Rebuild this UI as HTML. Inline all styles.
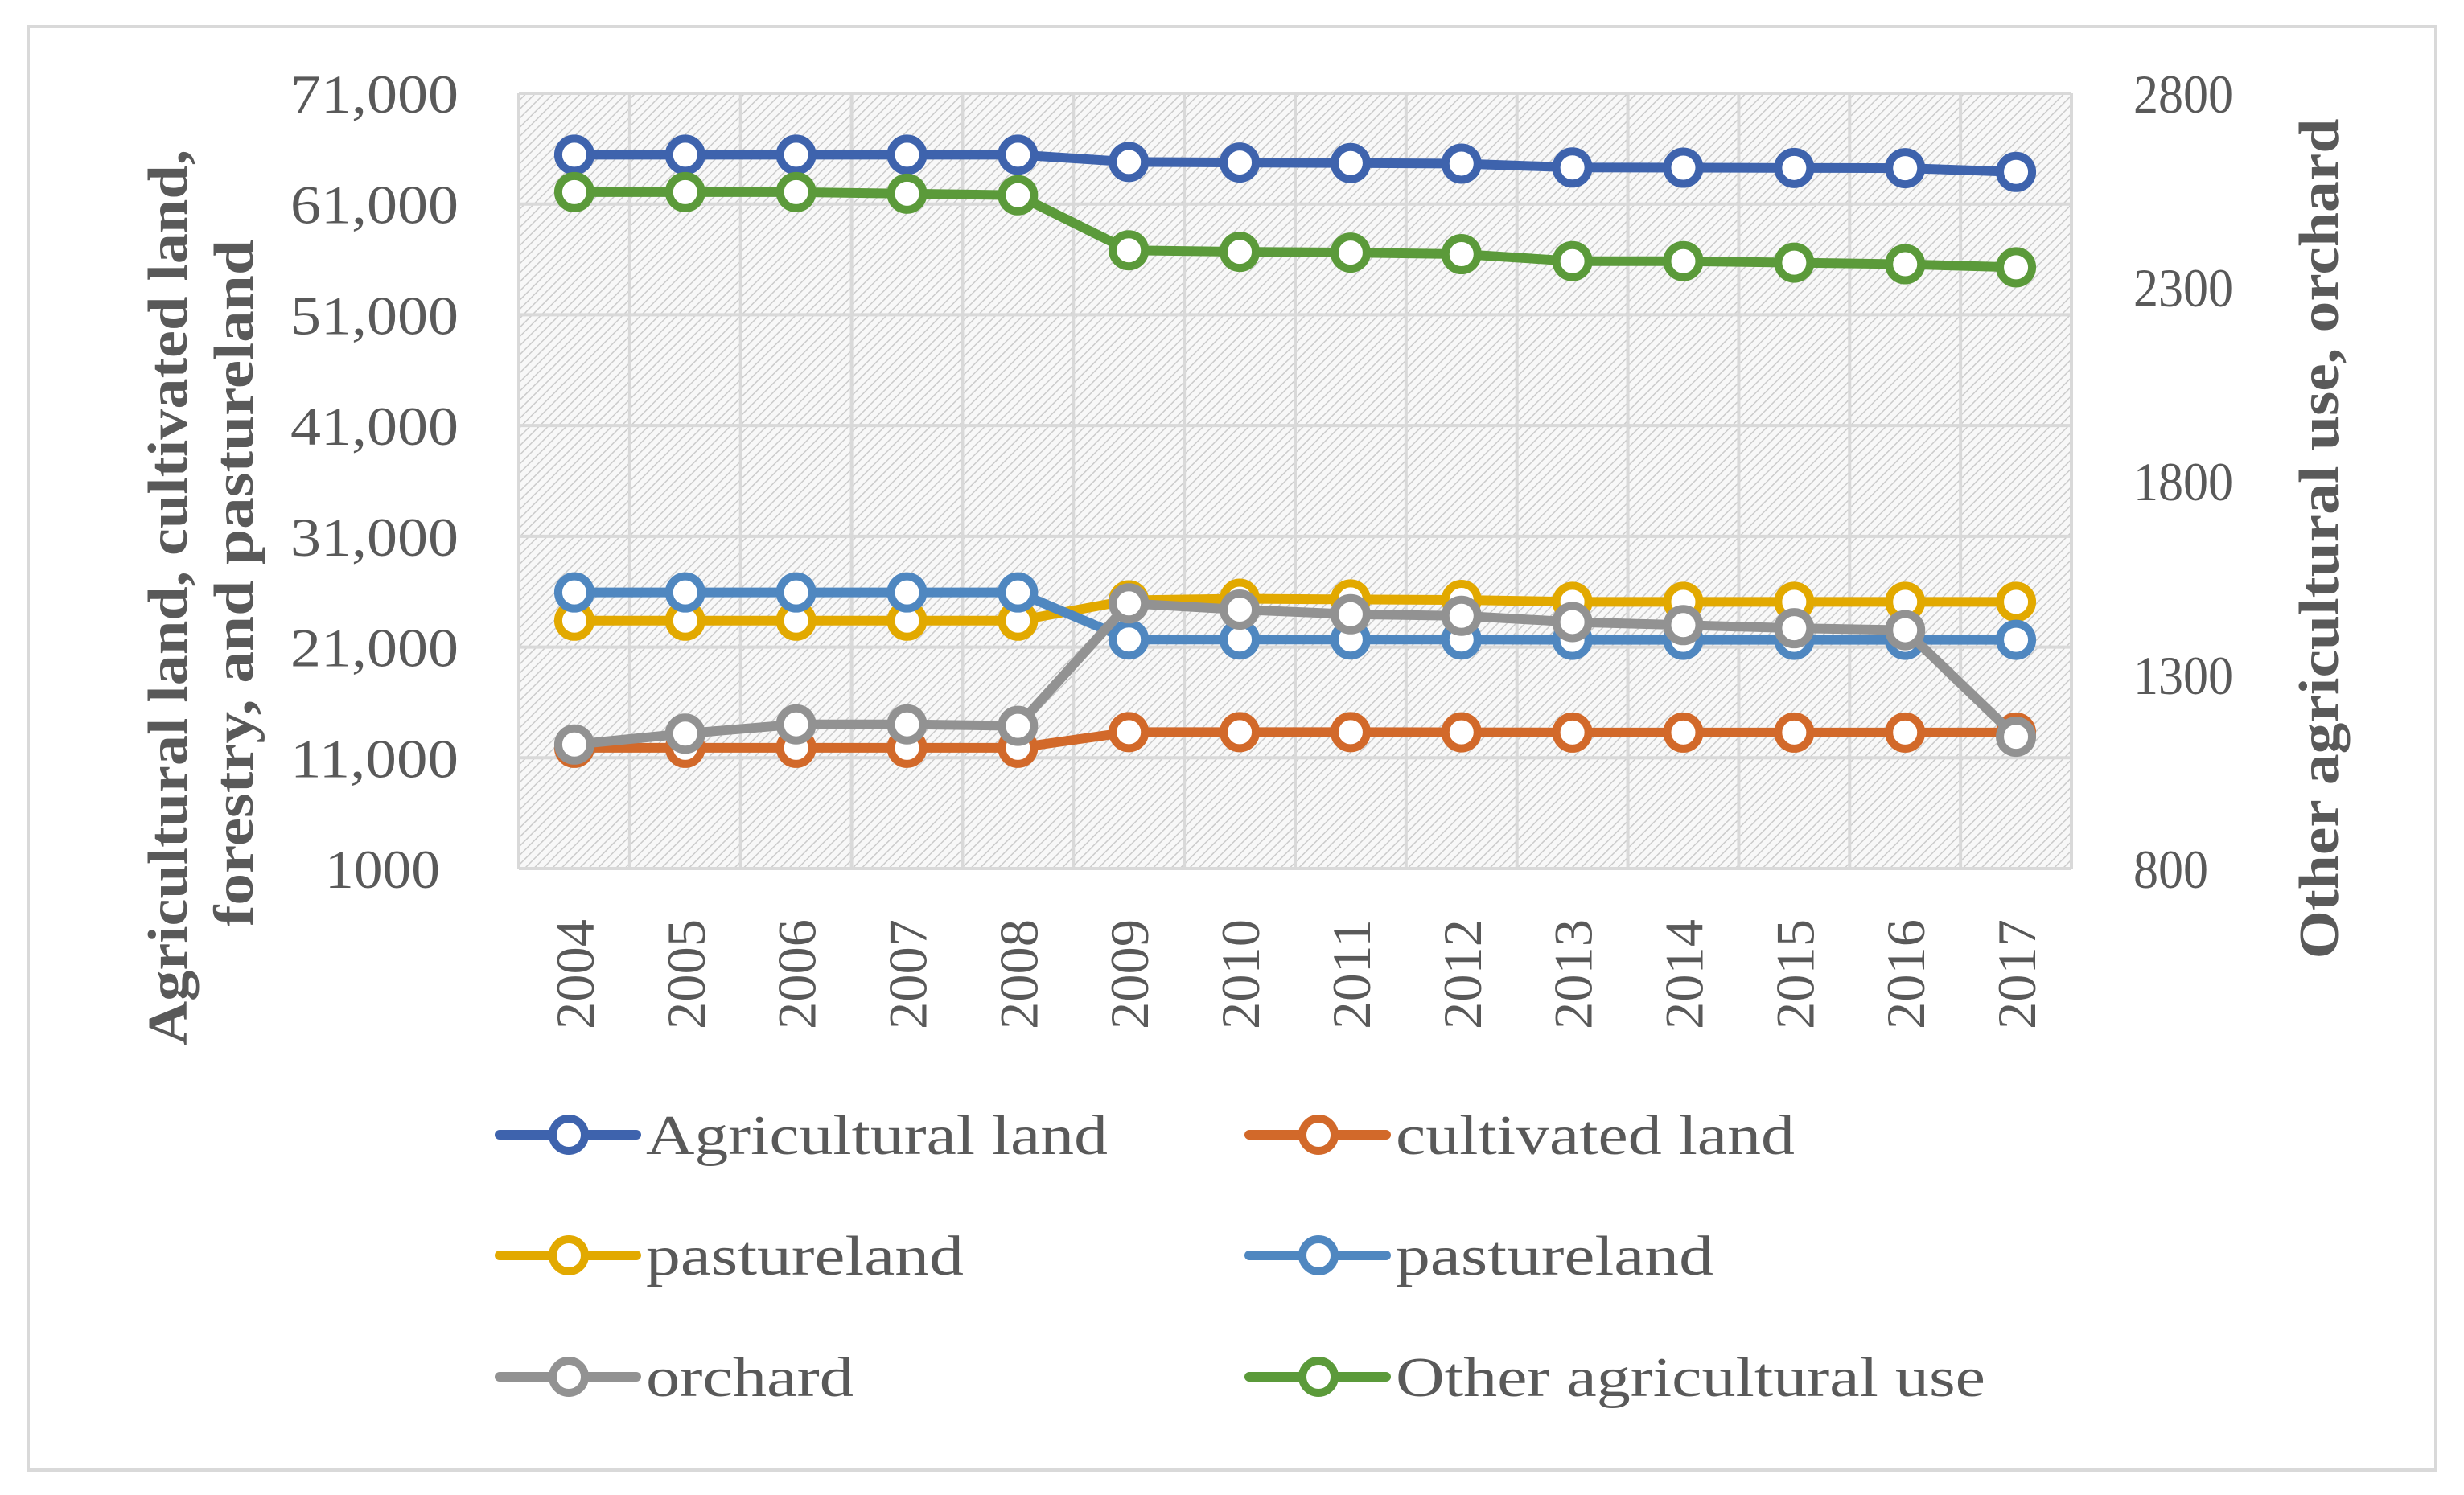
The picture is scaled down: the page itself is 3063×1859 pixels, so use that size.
<!DOCTYPE html>
<html><head><meta charset="utf-8"><style>
html,body{margin:0;padding:0;background:#fff;}
svg{display:block;font-family:"Liberation Serif",serif;}
</style></head><body>
<svg id="chart" width="3063" height="1859" viewBox="0 0 3063 1859">
<defs>
<pattern id="hatch" width="8" height="8" patternUnits="userSpaceOnUse" patternTransform="rotate(45)">
<rect width="8" height="8" fill="#f8f8f8"/>
<line x1="0" y1="0" x2="0" y2="8" stroke="#cbcbcb" stroke-width="3"/>
</pattern>
</defs>
<rect x="35" y="33" width="2993" height="1795" fill="#fff" stroke="#d9d9d9" stroke-width="4"/>
<rect x="645" y="116" width="1930" height="964" fill="url(#hatch)"/>
<g id="grid"></g>
<g id="series"></g>
<g id="axes"></g>
<text transform="translate(232,743) rotate(-90)" text-anchor="middle" font-size="70" font-weight="bold" fill="#595959" textLength="1114" lengthAdjust="spacingAndGlyphs">Agricultural land, cultivated land,</text>
<text transform="translate(314,725) rotate(-90)" text-anchor="middle" font-size="70" font-weight="bold" fill="#595959" textLength="854" lengthAdjust="spacingAndGlyphs">forestry, and pastureland</text>
<text transform="translate(2906,670) rotate(-90)" text-anchor="middle" font-size="70" font-weight="bold" fill="#595959" textLength="1045" lengthAdjust="spacingAndGlyphs">Other agricultural use, orchard</text>
<g id="legend"></g>
</svg>
<script>
const years = ["2004","2005","2006","2007","2008","2009","2010","2011","2012","2013","2014","2015","2016","2017"];
const leftTicks = [1000,11000,21000,31000,41000,51000,61000,71000];
const leftTickLabels = ["1000","11,000","21,000","31,000","41,000","51,000","61,000","71,000"];
const rightTicks = [800,1300,1800,2300,2800];
const agricultural = [65450,65450,65450,65450,65450,64800,64750,64700,64650,64300,64280,64260,64240,63900];
const cultivated = [11900,11900,11900,11900,11900,13320,13320,13320,13300,13280,13280,13280,13280,13280];
const pastureYellow = [23380,23380,23380,23380,23380,25220,25360,25300,25250,25080,25080,25080,25080,25080];
const pastureBlue = [25930,25930,25930,25930,25930,21680,21680,21680,21680,21650,21650,21650,21650,21650];
const orchard = [1120,1148,1172,1172,1168,1484,1468,1456,1452,1436,1428,1420,1415,1140];
const otherUse = [2545,2545,2545,2541,2537,2395,2391,2389,2385,2367,2367,2363,2359,2351];

const NS="http://www.w3.org/2000/svg";
const PL=645,PR=2575,PT=116,PB=1080;
const bw=(PR-PL)/years.length;
function xPos(i){return PL+bw*(i+0.5);}
function yLeft(v){return PB-(v-1000)/(71000-1000)*(PB-PT);}
function yRight(v){return PB-(v-800)/(2800-800)*(PB-PT);}
function mk(tag,attrs,parent){const e=document.createElementNS(NS,tag);for(const k in attrs)e.setAttribute(k,attrs[k]);parent.appendChild(e);return e;}

const grid=document.getElementById('grid');
leftTicks.forEach((t,i)=>{
  const l=mk('line',{x1:PL,x2:PR,y1:yLeft(t),y2:yLeft(t),stroke:'#d9d9d9','stroke-width':4},grid);
  
  
});
for(let i=0;i<=years.length;i++){
  const x=PL+bw*i;
  const l=mk('line',{x1:x,x2:x,y1:PT,y2:PB,stroke:'#d9d9d9','stroke-width':4},grid);
  
  
}

const axes=document.getElementById('axes');
leftTicks.forEach((t,i)=>{
  const lab=leftTickLabels[i];
  const short=lab.length<6;
  const tx=mk('text',{x:short?547:570,y:yLeft(t)+24,'text-anchor':'end','font-size':68,fill:'#595959',textLength:short?143:209,lengthAdjust:'spacingAndGlyphs'},axes);
  tx.textContent=lab;
  
  
});
rightTicks.forEach(t=>{
  const s=String(t);
  const tx=mk('text',{x:2652,y:yRight(t)+24,'text-anchor':'start','font-size':68,fill:'#595959',textLength:s.length*31,lengthAdjust:'spacingAndGlyphs'},axes);
  tx.textContent=s;
  
  
});
years.forEach((y,i)=>{
  const tx=mk('text',{transform:`translate(${xPos(i)+24},1143) rotate(-90)`,'text-anchor':'end','font-size':68,fill:'#595959',textLength:137,lengthAdjust:'spacingAndGlyphs'},axes);
  tx.textContent=y;
  
  
});

const seriesDefs=[
  {name:'agricultural-land',data:agricultural,axis:'L',color:'#3e63ad'},
  {name:'cultivated-land',data:cultivated,axis:'L',color:'#d2692a'},
  {name:'pastureland-yellow',data:pastureYellow,axis:'L',color:'#e2a900'},
  {name:'pastureland-blue',data:pastureBlue,axis:'L',color:'#4f87c0'},
  {name:'orchard',data:orchard,axis:'R',color:'#929292'},
  {name:'other-agricultural-use',data:otherUse,axis:'R',color:'#5b9a3a'}
];
const sg=document.getElementById('series');
seriesDefs.forEach(s=>{
  const g=mk('g',{},sg);
  
  
  const yf=s.axis==='L'?yLeft:yRight;
  const pts=s.data.map((v,i)=>xPos(i)+','+yf(v)).join(' ');
  const pl=mk('polyline',{points:pts,fill:'none',stroke:s.color,'stroke-width':12,'stroke-linejoin':'round','stroke-linecap':'round'},g);
  
  
  s.data.forEach((v,i)=>{
    const c=mk('circle',{cx:xPos(i),cy:yf(v),r:20,fill:'#fff',stroke:s.color,'stroke-width':10},g);
    
    
  });
});

const legendItems=[
  {label:'Agricultural land',color:'#3e63ad',x:621,y:1411,w:574},
  {label:'cultivated land',color:'#d2692a',x:1553,y:1411,w:496},
  {label:'pastureland',color:'#e2a900',x:621,y:1561,w:395},
  {label:'pastureland',color:'#4f87c0',x:1553,y:1561,w:395},
  {label:'orchard',color:'#929292',x:621,y:1712,w:258},
  {label:'Other agricultural use',color:'#5b9a3a',x:1553,y:1712,w:733}
];
const lg=document.getElementById('legend');
legendItems.forEach(it=>{
  const g=mk('g',{},lg);
  
  
  mk('line',{x1:it.x,x2:it.x+170,y1:it.y,y2:it.y,stroke:it.color,'stroke-width':12,'stroke-linecap':'round'},g);
  mk('circle',{cx:it.x+86,cy:it.y,r:20,fill:'#fff',stroke:it.color,'stroke-width':10},g);
  const t=mk('text',{x:it.x+182,y:it.y+24,'font-size':70,fill:'#595959',textLength:it.w,lengthAdjust:'spacingAndGlyphs'},g);
  t.textContent=it.label;
  
  
});
</script>
</body></html>
